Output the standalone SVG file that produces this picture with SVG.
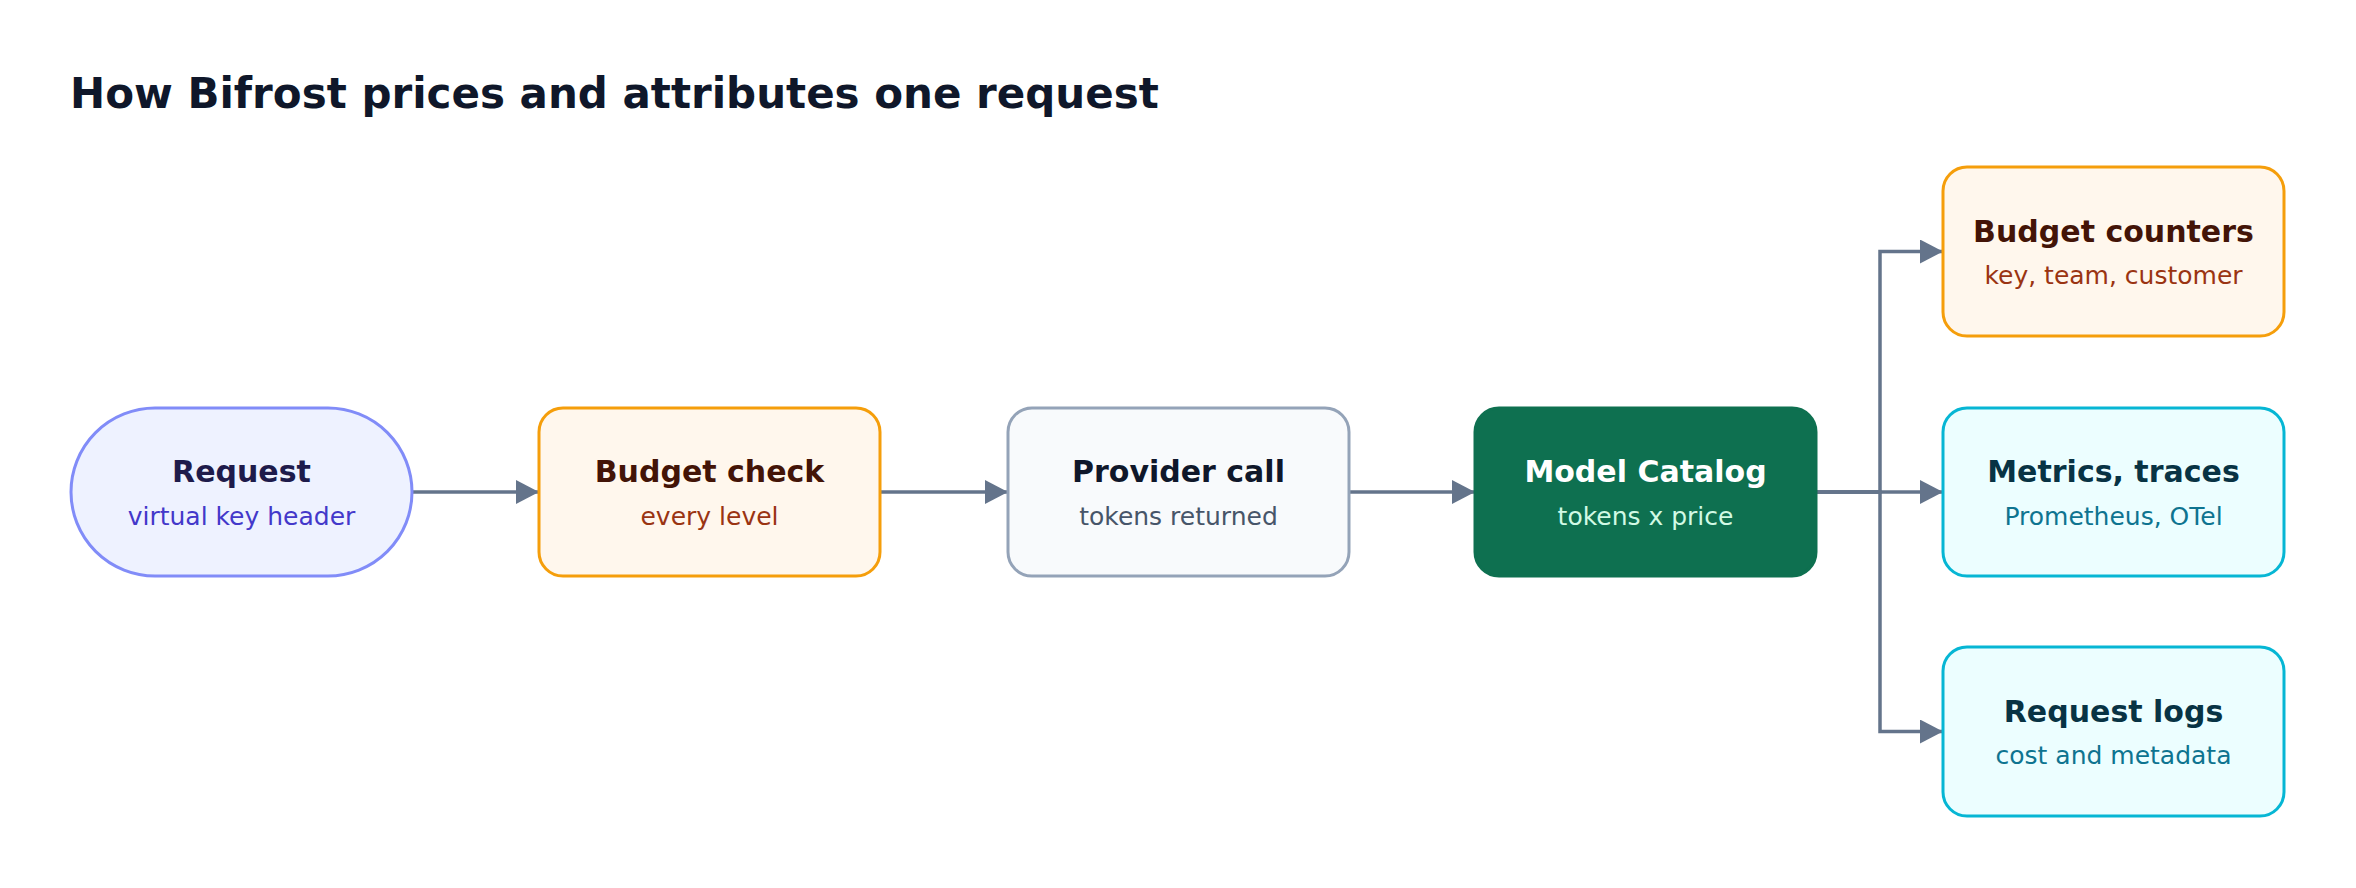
<svg xmlns="http://www.w3.org/2000/svg" width="2356" height="888" viewBox="0 0 2356 888">
<style>
text{font-family:"DejaVu Sans","Liberation Sans",sans-serif;text-anchor:middle}
.t{font-size:30px;font-weight:bold}
.s{font-size:25px}
.edge{fill:none;stroke:#64748b;stroke-width:3.5;stroke-linejoin:miter}
.box{stroke-width:3}
</style>
<defs>
<marker id="arr" markerUnits="userSpaceOnUse" markerWidth="23" markerHeight="24" refX="23" refY="12" orient="auto">
<path d="M0,0 L23,12 L0,24 Z" fill="#64748b"/>
</marker>
</defs>
<rect width="2356" height="888" fill="#ffffff"/>
<text x="70" y="108" style="text-anchor:start;font-size:42px;font-weight:bold" fill="#0f172a">How Bifrost prices and attributes one request</text>
<g id="connectors">
<path class="edge" d="M412,492 H539" marker-end="url(#arr)"/>
<path class="edge" d="M880,492 H1008" marker-end="url(#arr)"/>
<path class="edge" d="M1349,492 H1475" marker-end="url(#arr)"/>
<path class="edge" d="M1816,492 H1880 V251.5 H1943" marker-end="url(#arr)"/>
<path class="edge" d="M1816,492 H1943" marker-end="url(#arr)"/>
<path class="edge" d="M1816,492 H1880 V731.5 H1943" marker-end="url(#arr)"/>
</g>
<g id="request">
<rect class="box" x="71" y="408" width="341" height="168" rx="84" fill="#eef2ff" stroke="#818cf8"/>
<text class="t" x="241.5" y="482" fill="#1e1b4b">Request</text>
<text class="s" x="241.5" y="524.5" fill="#4338ca">virtual key header</text>
</g>
<g id="budget-check">
<rect class="box" x="539" y="408" width="341" height="168" rx="24" fill="#fff7ed" stroke="#f59e0b"/>
<text class="t" x="709.5" y="482" fill="#431407">Budget check</text>
<text class="s" x="709.5" y="524.5" fill="#9a3412">every level</text>
</g>
<g id="provider-call">
<rect class="box" x="1008" y="408" width="341" height="168" rx="24" fill="#f8fafc" stroke="#94a3b8"/>
<text class="t" x="1178.5" y="482" fill="#0f172a">Provider call</text>
<text class="s" x="1178.5" y="524.5" fill="#475569">tokens returned</text>
</g>
<g id="model-catalog">
<rect class="box" x="1475" y="408" width="341" height="168" rx="24" fill="#0e7050" stroke="#0e7050"/>
<text class="t" x="1645.5" y="482" fill="#ffffff">Model Catalog</text>
<text class="s" x="1645.5" y="524.5" fill="#d1fae5">tokens x price</text>
</g>
<g id="budget-counters">
<rect class="box" x="1943" y="167" width="341" height="169" rx="24" fill="#fff7ed" stroke="#f59e0b"/>
<text class="t" x="2113.5" y="241.5" fill="#431407">Budget counters</text>
<text class="s" x="2113.5" y="284" fill="#9a3412">key, team, customer</text>
</g>
<g id="metrics-traces">
<rect class="box" x="1943" y="408" width="341" height="168" rx="24" fill="#ecfeff" stroke="#06b6d4"/>
<text class="t" x="2113.5" y="482" fill="#083344">Metrics, traces</text>
<text class="s" x="2113.5" y="524.5" fill="#0e7490">Prometheus, OTel</text>
</g>
<g id="request-logs">
<rect class="box" x="1943" y="647" width="341" height="169" rx="24" fill="#ecfeff" stroke="#06b6d4"/>
<text class="t" x="2113.5" y="721.5" fill="#083344">Request logs</text>
<text class="s" x="2113.5" y="764" fill="#0e7490">cost and metadata</text>
</g>
</svg>
